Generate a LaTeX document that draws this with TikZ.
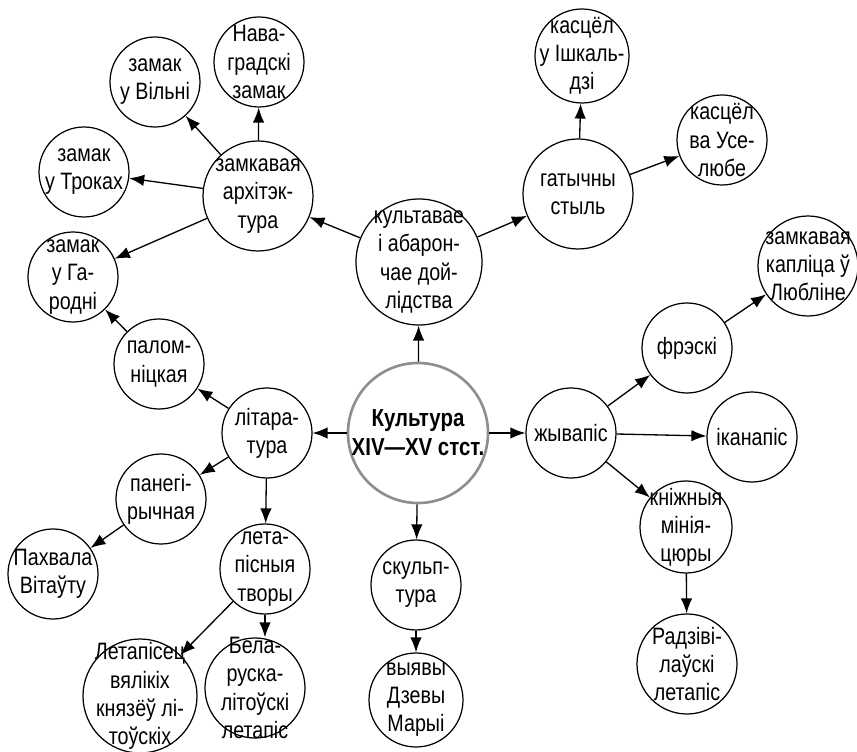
\documentclass[tikz,border=0pt]{standalone}
\usepackage{fontspec}
\setmainfont[FakeStretch=0.83]{Liberation Sans}
\usetikzlibrary{arrows.meta}
\definecolor{rimgray}{HTML}{8E8E8E}

\begin{document}
\begin{tikzpicture}[
    x=0.2mm, y=-0.2mm,
    font=\fontsize{13.5}{16}\selectfont,
    >={Latex[length=3mm, width=2.3mm]},
    % negative inner sep keeps the long texts from blowing up the circles
    topic/.style={draw, circle, line width=0.7pt, minimum size=18mm,
                  inner xsep=-3mm, inner ysep=-1.8mm, align=center},
    wide/.style={topic, minimum size=20mm},
    branch/.style={topic, minimum size=22mm},
    rootnode/.style={topic, draw=rimgray, line width=1.5pt, minimum size=28mm,
                     font=\fontsize{14}{16.5}\selectfont\bfseries},
    link/.style={->, line width=0.75pt},
]
    \useasboundingbox (0,0) rectangle (857,752);

    % ============================================================
    %  NODES
    % ============================================================
    % centre
    \node[rootnode] (root) at (418,433) {Культура\\XIV—XV стст.};

    % architecture
    \node[topic, minimum size=25.2mm] (build) at (419,262)
        {культавае\\і абарон-\\чае дой-\\лідства};
    \node[branch] (castle) at (258,196) {замкавая\\архітэк-\\тура};
    \node[topic] (navahr) at (259,62)  {Нава-\\градскі\\замак};
    \node[topic] (vilnia) at (155,82)  {замак\\у Вільні};
    \node[topic] (troki)  at (84,172)  {замак\\у Троках};
    \node[topic] (hrodna) at (73,277)  {замак\\у Га-\\родні};
    \node[branch] (gothic) at (578,194) {гатычны\\стыль};
    \node[topic, minimum size=18.8mm] (ishkal) at (582,56) {касцёл\\у Ішкаль-\\дзі};
    \node[topic] (uselub) at (722,140) {касцёл\\ва Усе-\\любе};

    % literature
    \node[topic] (lit)     at (267,433) {літара-\\тура};
    \node[topic] (pilgrim) at (159,364) {палом-\\ніцкая};
    \node[topic] (paneg)   at (161,499) {панегі-\\рычная};
    \node[topic] (praise)  at (53,574)  {Пахвала\\Вітаўту};
    \node[topic] (chron)   at (265,569) {лета-\\пісныя\\творы};
    \node[topic, minimum size=22.8mm] (chronist) at (140,696)
        {Летапісец\\вялікіх\\князёў лі-\\тоўскіх};
    \node[wide] (belchron) at (255,688) {Бела-\\руска-\\літоўскі\\летапіс};

    % sculpture
    \node[topic] (sculpt) at (416,585) {скульп-\\тура};
    \node[topic, minimum size=18.8mm] (mary) at (416,700) {выявы\\Дзевы\\Марыі};

    % painting
    \node[topic] (paint)  at (571,433) {жывапіс};
    \node[topic] (fresco) at (687,348) {фрэскі};
    \node[topic] (icon)   at (752,437) {іканапіс};
    \node[topic, minimum size=18.4mm] (minia) at (686,527) {кніжныя\\мінія-\\цюры};
    \node[wide]  (radziv) at (687,664) {Радзіві-\\лаўскі\\летапіс};
    \node[wide]  (lublin) at (808,266) {замкавая\\капліца ў\\Любліне};

    % ============================================================
    %  LINKS
    % ============================================================
    \draw[link] (root) -- (build);
    \draw[link] (root) -- (lit);
    \draw[link] (root) -- (paint);
    \draw[link] (root) -- (sculpt);

    \draw[link] (build) -- (castle);
    \draw[link] (build) -- (gothic);
    \draw[link] (castle) -- (navahr);
    \draw[link] (castle) -- (vilnia);
    \draw[link] (castle) -- (troki);
    \draw[link] (castle) -- (hrodna);
    \draw[link] (gothic) -- (ishkal);
    \draw[link] (gothic) -- (uselub);

    \draw[link] (lit) -- (pilgrim);
    \draw[link] (lit) -- (paneg);
    \draw[link] (lit) -- (chron);
    \draw[link] (pilgrim) -- (hrodna);
    \draw[link] (paneg) -- (praise);
    \draw[link] (chron) -- (chronist);
    \draw[link] (chron) -- (chron |- belchron.north);

    \draw[link] (sculpt) -- (mary);

    \draw[link] (paint) -- (fresco);
    \draw[link] (paint) -- (icon);
    \draw[link] (paint) -- (minia);
    \draw[link] (fresco) -- (lublin);
    \draw[link] (minia) -- (radziv);

\end{tikzpicture}
\end{document}
